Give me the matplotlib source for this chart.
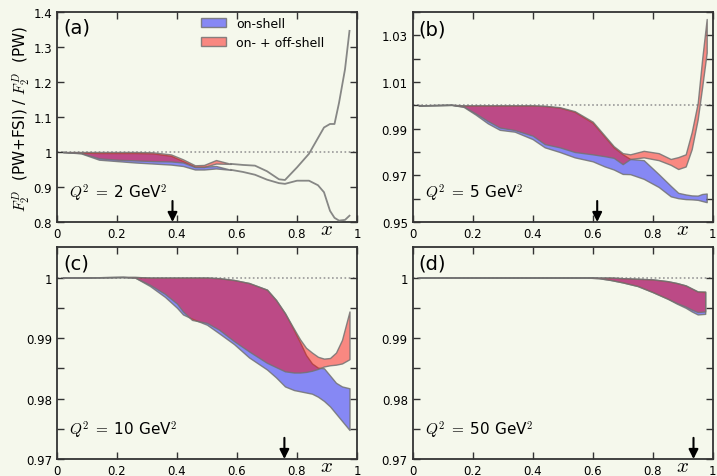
import numpy as np
import matplotlib
matplotlib.use('Agg')
import matplotlib.pyplot as plt

plt.rcParams['mathtext.fontset'] = 'cm'
plt.rcParams['font.family'] = ['DejaVu Sans']

BG = '#f5f8ec'

# ---- panel (a), Q^2 = 2 GeV^2 : bands up to x~0.58, bare lines after ----
XA_BAND   = [0.02, 0.08, 0.14, 0.20, 0.26, 0.32, 0.38, 0.42, 0.46, 0.49, 0.53, 0.58]
RED_HI_A  = [1.0, 1.0, 1.0, 1.0, 1.0, 0.999, 0.993, 0.979, 0.962, 0.963, 0.977, 0.966]
RED_LO_A  = [1.0, 0.997, 0.982, 0.978, 0.976, 0.974, 0.973, 0.970, 0.957, 0.957, 0.967, 0.966]
BLUE_HI_A = [1.0, 0.998, 0.997, 0.997, 0.997, 0.996, 0.989, 0.974, 0.958, 0.958, 0.960, 0.949]
BLUE_LO_A = [1.0, 0.996, 0.978, 0.974, 0.970, 0.967, 0.964, 0.960, 0.950, 0.950, 0.953, 0.949]
XA_TAIL   = [0.58, 0.62, 0.66, 0.70, 0.74, 0.76, 0.80, 0.84, 0.87, 0.89, 0.91, 0.925, 0.94, 0.96, 0.975]
UPPER_A   = [0.966, 0.963, 0.961, 0.945, 0.922, 0.920, 0.956, 0.995, 1.040, 1.070, 1.080, 1.080, 1.140, 1.236, 1.346]
LOWER_A   = [0.949, 0.943, 0.935, 0.921, 0.911, 0.909, 0.918, 0.918, 0.905, 0.885, 0.832, 0.812, 0.804, 0.806, 0.818]

# ---- panel (b), Q^2 = 5 GeV^2 ----
XB        = [0.02, 0.13, 0.17, 0.21, 0.25, 0.29, 0.34, 0.40, 0.44, 0.49, 0.54, 0.60, 0.64,
             0.67, 0.70, 0.725, 0.77, 0.82, 0.86, 0.885, 0.91, 0.93, 0.95, 0.965, 0.98]
RED_HI_B  = [1.0, 1.0002, 1.0, 1.0, 1.0, 1.0, 1.0, 1.0, 0.9998, 0.9992, 0.9975, 0.993, 0.987,
             0.9825, 0.9795, 0.979, 0.9805, 0.9795, 0.977, 0.9778, 0.979, 0.9885, 1.001, 1.020, 1.037]
RED_LO_B  = [1.0, 1.0002, 0.9995, 0.9965, 0.9933, 0.9905, 0.9894, 0.987, 0.9834, 0.982, 0.980, 0.979, 0.9782,
             0.9775, 0.9748, 0.977, 0.9777, 0.9765, 0.9745, 0.9727, 0.9738, 0.9812, 0.994, 1.008, 1.0226]
BLUE_HI_B = [1.0, 1.0002, 0.9999, 0.9999, 0.9999, 0.9999, 0.9999, 0.9999, 0.9997, 0.999, 0.9972, 0.9925, 0.9865,
             0.982, 0.979, 0.977, 0.9765, 0.9705, 0.9655, 0.9625, 0.9618, 0.9614, 0.9613, 0.962, 0.9622]
BLUE_LO_B = [1.0, 1.0002, 0.9993, 0.996, 0.9923, 0.9895, 0.9887, 0.9855, 0.982, 0.980, 0.9777, 0.976, 0.9738,
             0.9725, 0.9706, 0.9705, 0.9685, 0.965, 0.961, 0.9602, 0.9598, 0.9597, 0.9595, 0.959, 0.9585]

# ---- panel (c), Q^2 = 10 GeV^2 ----
XC        = [0.02, 0.22, 0.26, 0.31, 0.36, 0.40, 0.42, 0.45, 0.50, 0.54, 0.59, 0.64, 0.70,
             0.73, 0.76, 0.79, 0.81, 0.83, 0.85, 0.87, 0.89, 0.91, 0.93, 0.95, 0.975]
RED_HI_C  = [1.0, 1.0001, 1.0001, 1.0, 1.0, 1.0, 1.0, 1.0, 1.0, 0.9999, 0.9996, 0.9991, 0.998,
             0.9963, 0.9941, 0.9915, 0.9898, 0.9884, 0.9876, 0.9869, 0.9866, 0.9867, 0.9876, 0.9897, 0.9944]
RED_LO_C  = [1.0, 1.0001, 1.0, 0.9988, 0.9973, 0.9957, 0.9944, 0.993, 0.9925, 0.9914, 0.9895, 0.9878, 0.9859,
             0.9852, 0.9845, 0.9843, 0.9843, 0.9844, 0.9846, 0.9849, 0.9853, 0.9855, 0.9856, 0.9858, 0.9865]
BLUE_HI_C = [1.0, 1.0001, 1.0001, 1.0, 1.0, 1.0, 1.0, 1.0, 1.0, 0.9999, 0.9996, 0.9991, 0.998,
             0.9963, 0.9941, 0.9913, 0.9893, 0.9872, 0.9858, 0.9851, 0.9850, 0.9838, 0.9826, 0.982, 0.9817]
BLUE_LO_C = [1.0, 1.0001, 1.0, 0.9986, 0.9968, 0.995, 0.9939, 0.9932, 0.9922, 0.9908, 0.989, 0.9868, 0.9848,
             0.9835, 0.982, 0.9814, 0.9812, 0.981, 0.9808, 0.9803, 0.9796, 0.9787, 0.9775, 0.9763, 0.9748]

# ---- panel (d), Q^2 = 50 GeV^2 ----
XD        = [0.02, 0.58, 0.62, 0.66, 0.70, 0.75, 0.80, 0.85, 0.88, 0.91, 0.93, 0.95, 0.975]
RED_HI_D  = [1.0, 1.0, 1.0, 1.0, 0.9999, 0.9998, 0.9997, 0.9994, 0.9991, 0.9987, 0.9982, 0.9977, 0.9977]
RED_LO_D  = [1.0, 1.0, 0.9999, 0.9996, 0.9992, 0.9986, 0.9976, 0.9965, 0.9958, 0.9952, 0.9947, 0.9943, 0.9944]
BLUE_HI_D = [1.0, 1.0, 1.0, 1.0, 0.9999, 0.9998, 0.9997, 0.9994, 0.9991, 0.9987, 0.9982, 0.9977, 0.9976]
BLUE_LO_D = [1.0, 1.0, 0.9999, 0.9996, 0.9992, 0.9986, 0.9976, 0.9965, 0.9957, 0.995, 0.9944, 0.9939, 0.994]

ARROW_X  = {'a': 0.385, 'b': 0.615, 'c': 0.758, 'd': 0.936}
Q2       = {'a': 2, 'b': 5, 'c': 10, 'd': 50}

XTICKS       = [0, 0.2, 0.4, 0.6, 0.8, 1.0]
XTICKLABELS  = ['0', '0.2', '0.4', '0.6', '0.8', '1']
YTICKS_A     = [0.8, 0.9, 1.0, 1.1, 1.2, 1.3, 1.4]
YLABELS_A    = ['0.8', '0.9', '1', '1.1', '1.2', '1.3', '1.4']
YTICKS_B     = [0.95, 0.96, 0.97, 0.98, 0.99, 1.00, 1.01, 1.02, 1.03, 1.04]
YLABELS_B    = ['0.95', '', '0.97', '', '0.99', '', '1.01', '', '1.03', '']
YTICKS_CD    = [0.97, 0.975, 0.98, 0.985, 0.99, 0.995, 1.0]
YLABELS_CD   = ['0.97', '', '0.98', '', '0.99', '', '1']

BLUE_FC = (0.0, 0.0, 1.0, 0.45)
RED_FC  = (1.0, 0.0, 0.0, 0.45)
EDGE    = (0.45, 0.45, 0.45, 0.85)


def style_axes(ax, yticks, ylabels, ylim):
    ax.set_facecolor(BG)
    ax.set_xlim(0, 1)
    ax.set_ylim(*ylim)
    ax.set_xticks(XTICKS)
    ax.set_xticklabels(XTICKLABELS)
    ax.set_yticks(yticks)
    ax.set_yticklabels(ylabels)
    ax.tick_params(direction='in', length=5, width=1, colors='#333333',
                   top=True, right=True, labelsize=8.5, labelcolor='black')
    for sp in ax.spines.values():
        sp.set_linewidth(1.3)
        sp.set_color('#333333')
    ax.axhline(1.0, color='#999999', lw=1.2, ls=(0, (1, 1.5)), zorder=1)
    ax.text(0.9, -0.03, '$x$', transform=ax.transAxes, ha='center', va='center', fontsize=15)


def draw_bands(ax, x, blo, bhi, rlo, rhi):
    ax.fill_between(x, blo, bhi, facecolor=BLUE_FC, edgecolor=EDGE, lw=1.0,
                    label='on-shell', zorder=2)
    ax.fill_between(x, rlo, rhi, facecolor=RED_FC, edgecolor=EDGE, lw=1.0,
                    label='on- + off-shell', zorder=3)


def decorate(ax, key, ytxt):
    ax.text(0.02, ytxt, f'({key})', transform=ax.transAxes, fontsize=14, va='center')
    ax.text(0.04, 0.142, rf'$Q^2\;=\;${Q2[key]} GeV$^2$', transform=ax.transAxes,
            fontsize=11, va='center')
    ax.annotate('', xy=(ARROW_X[key], 0.0), xytext=(ARROW_X[key], 0.1),
                xycoords=('data', 'axes fraction'),
                arrowprops=dict(arrowstyle='-|>', color='black', lw=1.5,
                                mutation_scale=14, shrinkA=0, shrinkB=0))


fig = plt.figure(figsize=(7.17, 4.77), dpi=100, facecolor=BG)

w = 0.4184
ax_a = fig.add_axes([0.0795, 0.5325, w, 0.4403])
ax_b = fig.add_axes([0.5756, 0.5325, w, 0.4403])
ax_c = fig.add_axes([0.0795, 0.0356, w, 0.4438])
ax_d = fig.add_axes([0.5756, 0.0356, w, 0.4438])

style_axes(ax_a, YTICKS_A, YLABELS_A, (0.8, 1.4))
style_axes(ax_b, YTICKS_B, YLABELS_B, (0.95, 1.04))
style_axes(ax_c, YTICKS_CD, YLABELS_CD, (0.97, 1.005))
style_axes(ax_d, YTICKS_CD, YLABELS_CD, (0.97, 1.005))

draw_bands(ax_a, XA_BAND, BLUE_LO_A, BLUE_HI_A, RED_LO_A, RED_HI_A)
ax_a.plot(XA_TAIL, UPPER_A, color=EDGE, lw=1.3, zorder=3)
ax_a.plot(XA_TAIL, LOWER_A, color=EDGE, lw=1.3, zorder=3)
draw_bands(ax_b, XB, BLUE_LO_B, BLUE_HI_B, RED_LO_B, RED_HI_B)
draw_bands(ax_c, XC, BLUE_LO_C, BLUE_HI_C, RED_LO_C, RED_HI_C)
draw_bands(ax_d, XD, BLUE_LO_D, BLUE_HI_D, RED_LO_D, RED_HI_D)

decorate(ax_a, 'a', 0.93)
decorate(ax_b, 'b', 0.92)
decorate(ax_c, 'c', 0.924)
decorate(ax_d, 'd', 0.924)

ax_a.legend(loc='upper left', bbox_to_anchor=(0.48, 0.975), frameon=False, fontsize=9,
            handlelength=2.0, handleheight=0.7, handletextpad=0.8, labelspacing=0.45,
            borderaxespad=0, borderpad=0)

fig.text(0.03, 0.75, r'$F_2^D$  (PW+FSI) / $F_2^D$  (PW)', rotation=90,
         ha='center', va='center', fontsize=11)

plt.savefig('out.png', dpi=100, facecolor=BG)
plt.close()
